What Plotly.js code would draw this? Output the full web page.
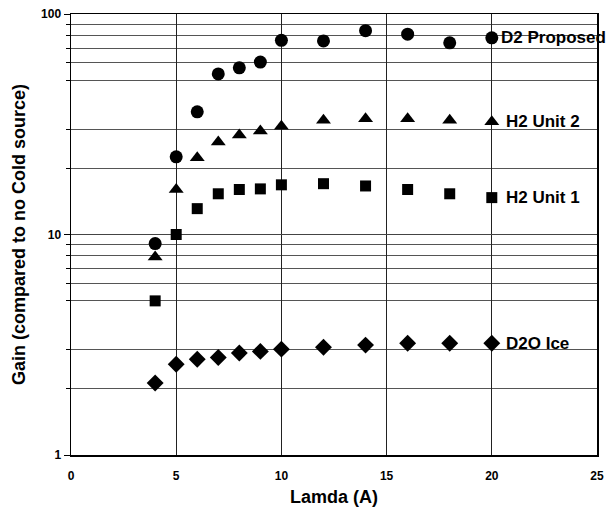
<!DOCTYPE html>
<html>
<head>
<meta charset="utf-8">
<script src="https://cdn.plot.ly/plotly-3.0.1.min.js"></script>
<style>html,body{margin:0;padding:0;background:#fff;}#chart{width:606px;height:522px;}</style>
</head>
<body>
<div id="chart"></div>
<script>
const lamdaD2 = [4, 5, 6, 7, 8, 9, 10, 12, 14, 16, 18, 20];
const d2Proposed = [9.1, 22.5, 36, 53.5, 57, 60.5, 76, 75.5, 84, 81, 74, 78];
const lamdaH2U2 = [4, 5, 6, 7, 8, 9, 10, 12, 14, 16, 18, 20];
const h2Unit2 = [7.9, 16, 22.3, 26.3, 28.3, 29.5, 31, 33, 33.5, 33.5, 33, 32.5];
const lamdaH2U1 = [4, 5, 6, 7, 8, 9, 10, 12, 14, 16, 18, 20];
const h2Unit1 = [5.0, 10.0, 13.1, 15.3, 16.0, 16.1, 16.8, 17.0, 16.6, 16.0, 15.3, 14.7];
const lamdaIce = [4, 5, 6, 7, 8, 9, 10, 12, 14, 16, 18, 20];
const d2oIce = [2.12, 2.58, 2.72, 2.77, 2.9, 2.95, 3.02, 3.08, 3.15, 3.21, 3.21, 3.21];
const seriesNames = ['D2 Proposed', 'H2 Unit 2', 'H2 Unit 1', 'D2O Ice'];
const xTicks = [0, 5, 10, 15, 20, 25];
const yMajorTicks = [1, 10, 100];
const yMinorTicks = [2, 3, 5, 6, 7, 8, 9, 20, 30, 50, 60, 70, 80, 90];

const FONT = 'Liberation Sans, Arial, sans-serif';
const sets = [
  {x: lamdaD2, y: d2Proposed, symbol: 'circle', size: 13, shift: 7},
  {x: lamdaH2U2, y: h2Unit2, symbol: 'triangle-up', size: 13, shift: 12},
  {x: lamdaH2U1, y: h2Unit1, symbol: 'square', size: 11, shift: 12},
  {x: lamdaIce, y: d2oIce, symbol: 'diamond', size: 13, shift: 12}
];
const traces = sets.map((s, i) => ({
  type: 'scatter', mode: 'markers', name: seriesNames[i],
  x: s.x, y: s.y,
  marker: {symbol: s.symbol, size: s.size, color: '#000'},
  cliponaxis: false
}));
const annotations = sets.map((s, i) => ({
  x: s.x[s.x.length - 1], y: Math.log10(s.y[s.y.length - 1]),
  xref: 'x', yref: 'y', xanchor: 'left', yanchor: 'middle',
  xshift: s.shift, showarrow: false, text: seriesNames[i],
  font: {family: FONT, size: 17, color: '#000', weight: 'bold'}
}));

const layout = {
  width: 606, height: 522,
  margin: {l: 71, r: 9, t: 14, b: 67},
  paper_bgcolor: '#fff', plot_bgcolor: '#fff',
  showlegend: false,
  xaxis: {
    range: [0, 25], tickvals: xTicks, ticktext: xTicks.map(String),
    showgrid: true, gridcolor: '#222', gridwidth: 1,
    showline: true, linecolor: '#000', linewidth: 1.5, mirror: true,
    ticks: '', zeroline: false, ticklabelstandoff: 9,
    tickfont: {family: FONT, size: 12, color: '#000', weight: 'bold'},
    title: {text: 'Lamda (A)', standoff: 8,
            font: {family: FONT, size: 18, color: '#000', weight: 'bold'}}
  },
  yaxis: {
    type: 'log', range: [0, 2],
    tickvals: yMajorTicks, ticktext: yMajorTicks.map(String),
    showgrid: true, gridcolor: '#444', gridwidth: 1,
    showline: true, linecolor: '#000', linewidth: 1.5, mirror: true,
    ticks: 'outside', ticklen: 6, tickcolor: '#000',
    minor: {tickvals: yMinorTicks, showgrid: true, gridcolor: '#555', gridwidth: 1,
            ticks: 'outside', ticklen: 4, tickcolor: '#000'},
    zeroline: false,
    tickfont: {family: FONT, size: 12, color: '#000', weight: 'bold'},
    title: {text: 'Gain (compared to no Cold source)', standoff: 11,
            font: {family: FONT, size: 18, color: '#000', weight: 'bold'}}
  },
  annotations: annotations
};
Plotly.newPlot('chart', traces, layout, {displayModeBar: false, staticPlot: true});
</script>
</body>
</html>
